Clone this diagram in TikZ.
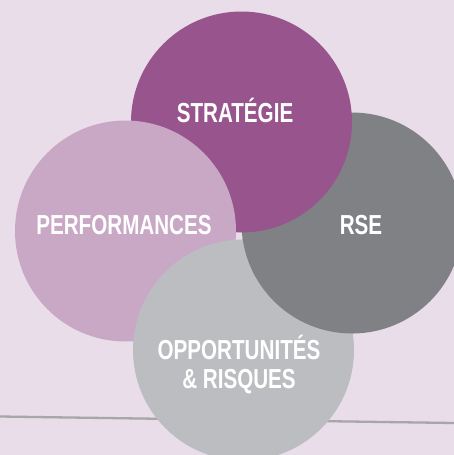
\documentclass[tikz,border=0pt]{standalone}
\usepackage{fontspec}
\usepackage{tikz}
\usetikzlibrary{positioning}
\newfontfamily\condsans[FakeStretch=0.75]{Liberation Sans}
\definecolor{bg_lavender}{HTML}{E8DDE9}
\definecolor{c_strat}{HTML}{98548C}
\definecolor{c_perf}{HTML}{C9A8C6}
\definecolor{c_rse}{HTML}{808184}
\definecolor{c_opp}{HTML}{BCBDC0}
\definecolor{c_rule}{HTML}{A7A7AA}
\tikzset{
  bubble/.style={circle,minimum size=221pt,inner sep=0pt,draw=none},
  caption/.style={text=white,font=\condsans\bfseries\fontsize{27.5}{29}\selectfont,align=center,inner sep=0pt,anchor=base},
  baseline_rule/.style={draw=c_rule,line width=2.3pt},
}
\begin{document}
\begin{tikzpicture}[x=1pt,y=-1pt]
	    \fill[bg_lavender] (0,0) rectangle (454,455);
	    \useasboundingbox (0,0) rectangle (454,455);
	    \coordinate (rule-l) at (0,416.5);
	    \coordinate (rule-r) at (454,423);
	    \draw[baseline_rule] (rule-l) -- (rule-r);
	    % circles, cyclic overlap
	    \node[bubble,fill=c_rse] (rse) at (352,223) {};
	    \node[bubble,fill=c_strat] (strat) at (241.5,122) {};
	    \node[bubble,fill=c_perf] (perf) at (125.5,231) {};
	    \node[bubble,fill=c_opp] (opp) at (243.5,350) {};
	    \begin{scope}
	    	\clip (opp.center) circle (112pt);
	    	\fill[c_rse] (rse.center) circle (110.5pt);
	    \end{scope}
	    \node[caption] (strat-txt) at (235,122) {STRATÉGIE};
	    \node[caption] (perf-txt) at (124,234.3) {PERFORMANCES};
	    \node[caption] (rse-txt) at (361,234.3) {RSE};
	    \node[caption] (opp-txt) at (239,388) {OPPORTUNITÉS\\\& RISQUES};
	\end{tikzpicture}
\end{document}
